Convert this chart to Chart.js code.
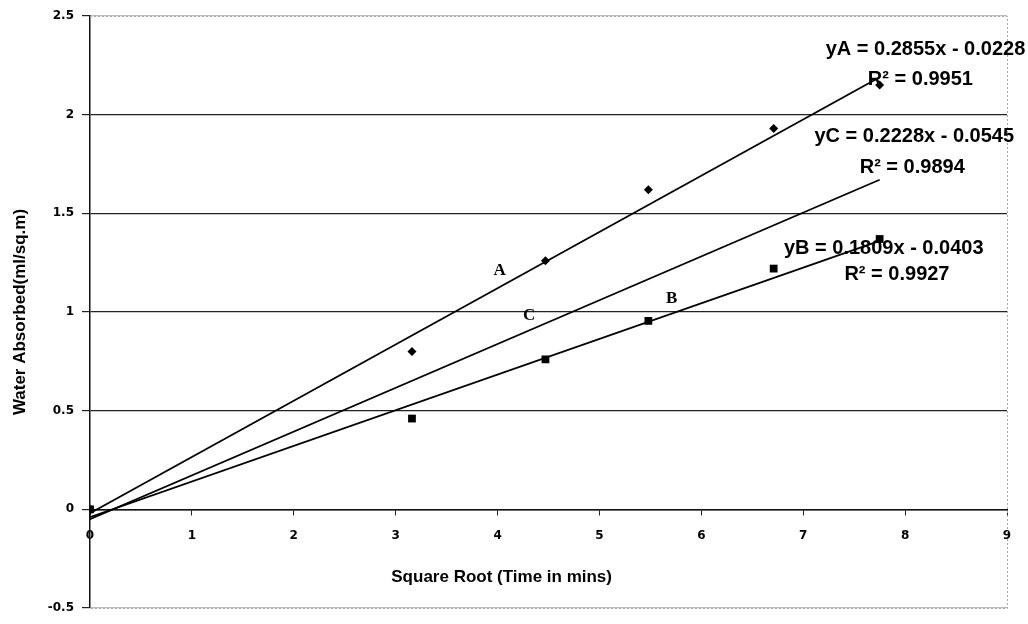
<!DOCTYPE html>
<html lang="en">
<head>
  <meta charset="UTF-8">
  <title>Water Absorption</title>
  <script src="https://cdn.jsdelivr.net/npm/chart.js"></script>
  <style>
    html, body { margin: 0; padding: 0; background: #fff; }
    #wrap { width: 1028px; height: 624px; }
  </style>
</head>
<body>
<div id="wrap"><canvas id="absChart"></canvas></div>

<script>
// square root of time (mins) for each reading
const rootTime = [0, 3.16, 4.47, 5.48, 6.71, 7.75];
const absorbedA = [0, 0.80, 1.26, 1.62, 1.93, 2.15];
const absorbedB = [0, 0.46, 0.76, 0.955, 1.22, 1.37];

// trend line end points
const trendX = [0, 7.75];
const trendA = [-0.02, 2.19];
const trendB = [-0.04, 1.36];
const trendC = [-0.05, 1.67];

const yTickValues = [-0.5, 0, 0.5, 1, 1.5, 2, 2.5];
const xTickValues = [0, 1, 2, 3, 4, 5, 6, 7, 8, 9];

const pts = (xs, ys) => xs.map((x, i) => ({ x, y: ys[i] }));

// text notes placed in data coordinates
const notes = [
  { text: 'yA = 0.2855x - 0.0228', x: 8.2, y: 2.33, font: 'bold 20px "Liberation Sans", Arial, sans-serif' },
  { text: 'R² = 0.9951', x: 8.15, y: 2.18, font: 'bold 20px "Liberation Sans", Arial, sans-serif' },
  { text: 'yC = 0.2228x - 0.0545', x: 8.09, y: 1.89, font: 'bold 20px "Liberation Sans", Arial, sans-serif' },
  { text: 'R² = 0.9894', x: 8.07, y: 1.73, font: 'bold 20px "Liberation Sans", Arial, sans-serif' },
  { text: 'yB = 0.1809x - 0.0403', x: 7.79, y: 1.32, font: 'bold 20px "Liberation Sans", Arial, sans-serif' },
  { text: 'R² = 0.9927', x: 7.92, y: 1.19, font: 'bold 20px "Liberation Sans", Arial, sans-serif' },
  { text: 'A', x: 4.02, y: 1.21, font: 'bold 17px "Liberation Serif", serif' },
  { text: 'C', x: 4.31, y: 0.98, font: 'bold 17px "Liberation Serif", serif' },
  { text: 'B', x: 5.71, y: 1.07, font: 'bold 17px "Liberation Serif", serif' },
  { text: 'Square Root (Time in mins)', x: 4.04, y: -0.345, font: 'bold 17px "Liberation Sans", Arial, sans-serif' }
];

const notesPlugin = {
  id: 'notes',
  beforeDatasetsDraw(chart) {
    // dotted grey frame on the top and right side
    const { ctx, chartArea: a } = chart;
    ctx.save();
    ctx.strokeStyle = '#aaa';
    ctx.lineWidth = 1;
    ctx.setLineDash([2, 2]);
    ctx.beginPath();
    ctx.moveTo(a.left, a.top + 0.5);
    ctx.lineTo(a.right + 0.5, a.top + 0.5);
    ctx.lineTo(a.right + 0.5, a.bottom + 0.5);
    ctx.lineTo(a.left, a.bottom + 0.5);
    ctx.stroke();
    ctx.restore();
  },
  afterDatasetsDraw(chart) {
    const { ctx } = chart;
    const xs = chart.scales.x, ys = chart.scales.y;
    ctx.save();
    ctx.fillStyle = '#000';
    ctx.textAlign = 'center';
    ctx.textBaseline = 'middle';
    notes.forEach(n => {
      ctx.font = n.font;
      ctx.fillText(n.text, xs.getPixelForValue(n.x), ys.getPixelForValue(n.y));
    });
    ctx.restore();
  }
};

const tickFont = { family: '"DejaVu Sans", sans-serif', size: 12, weight: 'bold' };

new Chart(document.getElementById('absChart'), {
  type: 'scatter',
  data: {
    datasets: [
      {
        label: 'A', data: pts(rootTime, absorbedA),
        pointStyle: 'rectRot', pointRadius: 4.5, backgroundColor: '#000', borderColor: '#000', borderWidth: 0
      },
      {
        label: 'B', data: pts(rootTime, absorbedB),
        pointStyle: 'rect', pointRadius: 5.5, backgroundColor: '#000', borderColor: '#000', borderWidth: 0
      },
      {
        label: 'Linear (A)', data: pts(trendX, trendA), showLine: true,
        pointRadius: 0, borderColor: '#000', borderWidth: 1.8
      },
      {
        label: 'Linear (B)', data: pts(trendX, trendB), showLine: true,
        pointRadius: 0, borderColor: '#000', borderWidth: 1.8
      },
      {
        label: 'Linear (C)', data: pts(trendX, trendC), showLine: true,
        pointRadius: 0, borderColor: '#000', borderWidth: 1.8
      }
    ]
  },
  options: {
    responsive: true,
    maintainAspectRatio: false,
    animation: false,
    layout: { padding: { left: 0, top: 16, right: 21, bottom: 16 } },
    plugins: {
      legend: { display: false },
      tooltip: { enabled: false }
    },
    scales: {
      x: {
        type: 'linear',
        position: { y: 0 },
        min: 0, max: 9,
        afterBuildTicks: s => { s.ticks = xTickValues.map(v => ({ value: v })); },
        grid: { drawOnChartArea: false, color: '#222', tickLength: 5 },
        border: { color: '#111', width: 1.5 },
        ticks: { color: '#000', font: tickFont, padding: 14, maxRotation: 0, callback: v => String(v) }
      },
      y: {
        type: 'linear',
        min: -0.5, max: 2.5,
        afterBuildTicks: s => { s.ticks = yTickValues.map(v => ({ value: v })); },
        afterFit: s => { s.width = 90; },
        grid: {
          color: c => (c.tick && (c.tick.value === 2.5 || c.tick.value === -0.5)) ? '#bbb' : '#222',
          lineWidth: 1.2,
          tickColor: '#222',
          tickLength: 8
        },
        border: { color: '#111', width: 1.5 },
        ticks: { color: '#000', font: tickFont, padding: 8, callback: v => String(v) },
        title: {
          display: true,
          text: 'Water Absorbed(ml/sq.m)',
          color: '#000',
          font: { family: '"Liberation Sans", Arial, sans-serif', size: 17, weight: 'bold' },
          padding: { top: 10, bottom: 12 }
        }
      }
    }
  },
  plugins: [notesPlugin]
});
</script>
</body>
</html>
